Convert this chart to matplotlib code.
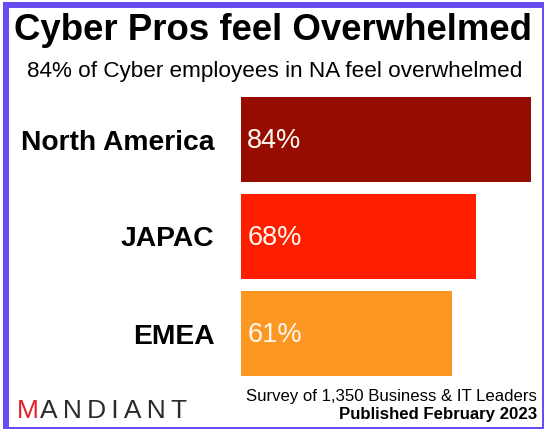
import matplotlib.pyplot as plt
from matplotlib.patches import Rectangle

regions = ["North America", "JAPAC", "EMEA"]
shares = [84, 68, 61]
bar_colors = ["#960c00", "#ff1e00", "#fc9722"]

title = "Cyber Pros feel Overwhelmed"
subtitle = "84% of Cyber employees in NA feel overwhelmed"
note1 = "Survey of 1,350 Business & IT Leaders"
note2 = "Published February 2023"

plt.rcParams['font.family'] = ['Liberation Sans', 'DejaVu Sans']

W, H = 547, 430
fig = plt.figure(figsize=(W / 100, H / 100), dpi=100)
fig.patch.set_facecolor("white")

# purple frame
purple = "#6a4cf5"
fig.patches.append(Rectangle((3 / W, 1 - 429 / H), 6 / W, 427 / H, transform=fig.transFigure,
                             facecolor=purple, edgecolor="none"))
fig.patches.append(Rectangle((3 / W, 1 - 8 / H), 541 / W, 6 / H, transform=fig.transFigure,
                             facecolor=purple, edgecolor="none"))
fig.patches.append(Rectangle((542 / W, 1 - 429 / H), 2 / W, 427 / H, transform=fig.transFigure,
                             facecolor=purple, edgecolor="none"))
fig.patches.append(Rectangle((3 / W, 1 - 429 / H), 541 / W, 2 / H, transform=fig.transFigure,
                             facecolor=purple, edgecolor="none"))

ax = fig.add_axes([241 / W, 1 - 382 / H, 300 / W, 291 / H])
y = list(range(len(regions)))
ax.barh(y, shares, height=0.875, color=bar_colors)
ax.set_xlim(0, 300 / 3.452)
ax.set_ylim(2.5, -0.5)
ax.set_yticks(y)
ax.set_yticklabels(regions, fontsize=20.3, fontweight="bold")
ax.tick_params(axis="y", length=0, pad=19)
ax.set_xticks([])
for s in ax.spines.values():
    s.set_visible(False)
for yi, v in zip(y, shares):
    ax.text(1.8, yi + 0.02, f"{v}%", color="#fff8f0", fontsize=19.5, va="center", ha="left")

fig.text(273 / W, 1 - 31 / H, title, fontsize=26.4, fontweight="bold", ha="center", va="center")
fig.text(275 / W, 1 - 71 / H, subtitle, fontsize=16.2, ha="center", va="center")
fig.text(537 / W, 1 - 397 / H, note1, fontsize=12.1, ha="right", va="center")
fig.text(537 / W, 1 - 415 / H, note2, fontsize=12.1, fontweight="bold", ha="right", va="center")

# logo
fig.text(17 / W, 1 - 411 / H, "M", fontsize=19, color="#e0202a", ha="left", va="center")
fig.text(40 / W, 1 - 411 / H, "A N D I A N T".replace(" ", "\u2009"), fontsize=19,
         color="#2b2b2b", ha="left", va="center")

fig.savefig("out.png", dpi=100)
